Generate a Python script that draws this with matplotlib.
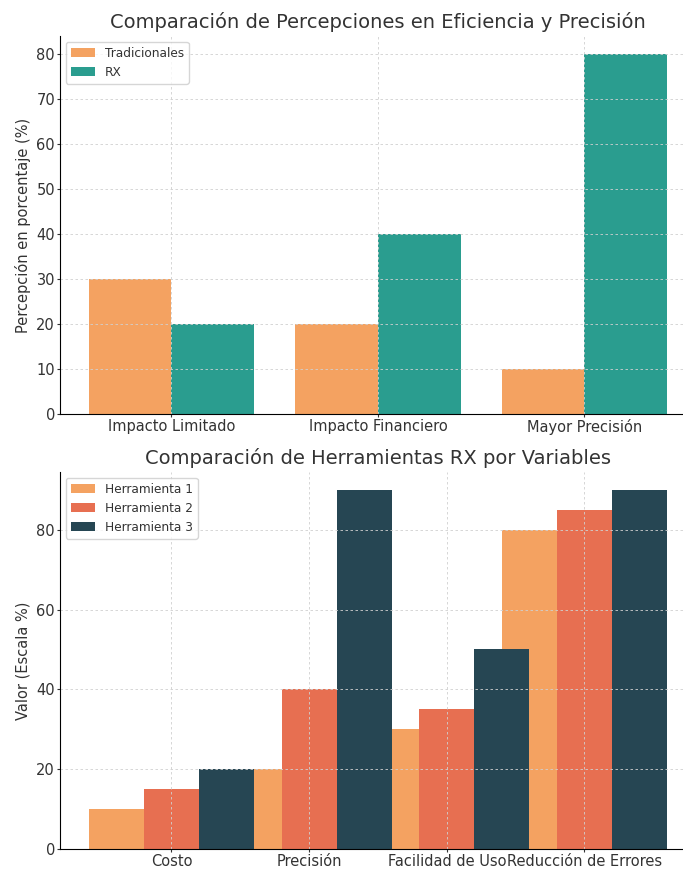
import numpy as np
import matplotlib
matplotlib.use("Agg")
import matplotlib.pyplot as plt

# survey: traditional vs RX perception
perc_categories = ["Impacto Limitado", "Impacto Financiero", "Mayor Precisión"]
tradicionales = [30, 20, 10]
rx = [20, 40, 80]

# RX tools compared per variable
tool_categories = ["Costo", "Precisión", "Facilidad de Uso", "Reducción de Errores"]
herramienta_1 = [10, 20, 30, 80]
herramienta_2 = [15, 40, 35, 85]
herramienta_3 = [20, 90, 50, 90]

c_orange = "#F4A261"
c_teal = "#2A9D8F"
c_red = "#E76F51"
c_dark = "#264653"
txt = "#333333"

plt.rcParams["text.color"] = txt
plt.rcParams["axes.labelcolor"] = txt
plt.rcParams["xtick.color"] = txt
plt.rcParams["ytick.color"] = txt

fig = plt.figure(figsize=(6.83, 8.69), dpi=100)
ax1 = fig.add_axes([0.0878, 0.5236, 1.019 - 0.0878, 0.9586 - 0.5236])
ax2 = fig.add_axes([0.0878, 0.0232, 1.019 - 0.0878, 0.4569 - 0.0232])


def style(ax):
    ax.grid(True, linestyle=(0, (3, 3)), color="#d0d0d0", linewidth=0.6)
    ax.spines["top"].set_visible(False)
    ax.spines["right"].set_visible(False)
    ax.tick_params(labelsize=10.5, length=2, pad=1.5)


# top chart
x = np.arange(len(perc_categories))
w = 0.4
ax1.bar(x - w / 2, tradicionales, w, label="Tradicionales", color=c_orange)
ax1.bar(x + w / 2, rx, w, label="RX", color=c_teal)
ax1.set_xticks(x)
ax1.set_xticklabels(perc_categories)
ax1.set_ylabel("Percepción en porcentaje (%)", fontsize=10.5)
ax1.set_title("Comparación de Percepciones en Eficiencia y Precisión", fontsize=14)
style(ax1)
ax1.legend(loc="upper left", fontsize=8.7)

# bottom chart, bars are as wide as the offset so neighbours touch
x2 = np.arange(len(tool_categories))
ax2.bar(x2 - w, herramienta_1, w, label="Herramienta 1", color=c_orange)
ax2.bar(x2, herramienta_2, w, label="Herramienta 2", color=c_red)
ax2.bar(x2 + w, herramienta_3, w, label="Herramienta 3", color=c_dark)
ax2.set_xticks(x2)
ax2.set_xticklabels(tool_categories)
ax2.set_ylabel("Valor (Escala %)", fontsize=10.5)
ax2.set_title("Comparación de Herramientas RX por Variables", fontsize=14)
style(ax2)
ax2.legend(loc="upper left", fontsize=8.7)

fig.savefig("out.png", dpi=100)
